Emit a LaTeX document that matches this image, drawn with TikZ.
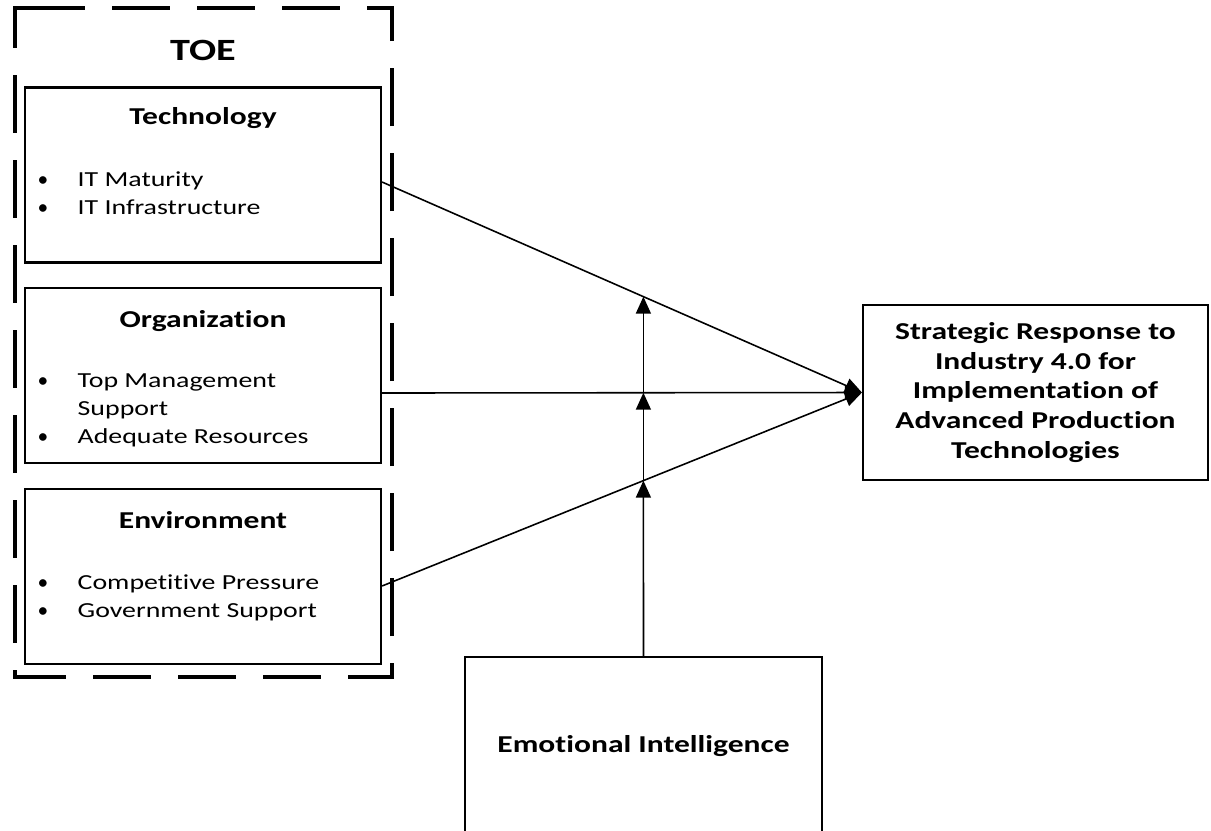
\documentclass[tikz,border=0pt]{standalone}
\usepackage{fontspec}
\setmainfont{Carlito}[Ligatures=NoCommon]
\usetikzlibrary{arrows.meta}
\newcommand{\wide}[1]{\scalebox{1.3}[1]{#1}}
\newcommand{\itm}[1]{\makebox[0.4cm][l]{\textbullet}\wide{#1}}
\tikzset{
 box/.style={draw,line width=0.6pt,minimum width=3.56cm,minimum height=1.75cm,inner sep=0pt},
 head/.style={font=\fontsize{6.9}{8.45}\selectfont\bfseries,inner sep=0pt},
 items/.style={font=\fontsize{6.1}{7.9}\selectfont,align=left,anchor=north west,inner sep=0pt},
 link/.style={line width=0.45pt,-{Triangle[length=0.17cm,width=0.15cm]}},
}
\begin{document}
\begin{tikzpicture}
\useasboundingbox(0,0)rectangle(12.11,-8.30);
%
\draw[line width=0.9pt,dash pattern=on 0.58cm off 0.27cm](0.33,-0.08)-|(0.15,-6.77)-|(3.92,-0.08)--cycle;
\node[head,font=\fontsize{8.8}{10}\selectfont\bfseries](toe)at(2.03,-0.50){\wide{TOE}};
%
\node[box](tech)at(2.03,-1.75){};
\node[head,anchor=base](techT)at(2.03,-1.24){\wide{Technology}};
\node[items](techL)at(0.37,-1.71){\itm{IT Maturity}\\\itm{IT Infrastructure}};
%
\node[box](org)at(2.03,-3.755){};
\node[head,anchor=base](orgT)at(2.03,-3.27){\wide{Organization}};
\node[items](orgL)at(0.37,-3.73){\itm{Top Management}\\\hspace*{0.4cm}\wide{Support}\\\itm{Adequate Resources}};
%
\node[box](env)at(2.03,-5.765){};
\node[head,anchor=base](envT)at(2.03,-5.28){\wide{Environment}};
\node[items](envL)at(0.37,-5.74){\itm{Competitive Pressure}\\\itm{Government Support}};
%
\node[box,head,minimum width=3.45cm,minimum height=1.75cm,align=center](resp)at(10.355,-3.925)
 {\wide{Strategic Response to}\\\wide{Industry 4.0 for}\\\wide{Implementation of}\\\wide{Advanced Production}\\\wide{Technologies}};
\node[box,head,minimum width=3.57cm,minimum height=1.78cm](ei)at(6.435,-7.46){\wide{Emotional Intelligence}};
%
\draw[link]([yshift=-0.07cm]tech.east)--coordinate[pos=0.5446](c1)(resp.west);
\draw[link]([yshift=-0.175cm]org.east)--coordinate[pos=0.5446](c2)(resp.west);
\draw[link]([yshift=-0.095cm]env.east)--coordinate[pos=0.5446](c3)(resp.west);
%
\draw[link](ei.north)--(c3);
\draw[link](c3)--(c2);
\draw[link](c2)--(c1);
\end{tikzpicture}
\end{document}
